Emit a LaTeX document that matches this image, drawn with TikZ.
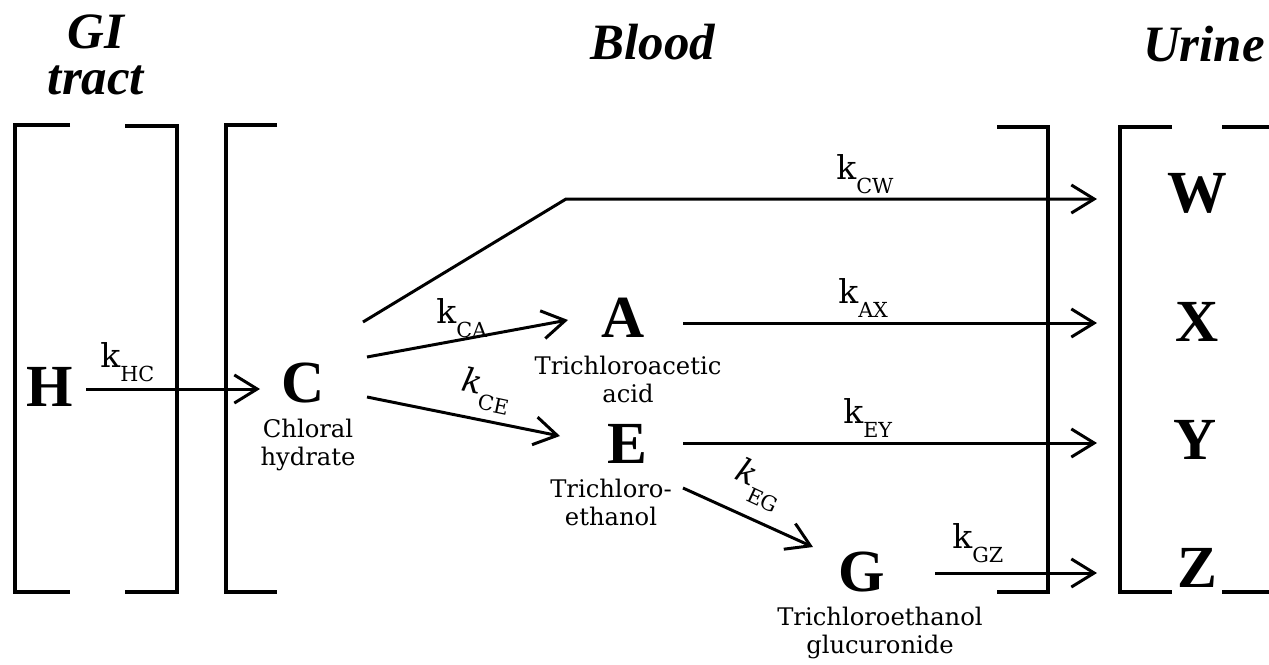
\documentclass[tikz,border=0pt]{standalone}
\usepackage{fontspec}
\newfontfamily\timesfont{Liberation Serif}
\newfontfamily\labelfont{DejaVu Serif}
\usetikzlibrary{arrows.meta,calc}

\newcommand{\rate}[2]{{\labelfont\fontsize{18.7}{18.7}\selectfont #1}\raisebox{-8.5pt}{\labelfont\fontsize{11.8}{11.8}\selectfont #2}}

\tikzset{
  pool/.style={font=\timesfont\bfseries\fontsize{34}{34}\selectfont, inner sep=0pt},
  region/.style={font=\timesfont\bfseries\itshape\fontsize{29}{26}\selectfont, inner sep=0pt, align=center},
  chem/.style={font=\labelfont\fontsize{13.8}{15.8}\selectfont, inner sep=0pt, align=center, anchor=north},
  ratelabel/.style={inner sep=0pt, anchor=base west},
  flow/.style={line width=1.7pt, -{Straight Barb[length=13pt,width=16pt]}},
  bracket/.style={line width=2pt},
}

\begin{document}
\begin{tikzpicture}[x=0.02cm, y=-0.02cm]
  \useasboundingbox (0,0) rectangle (1269,664);
  % compartment brackets
  \draw[bracket] (70,125) -- (15,125) -- (15,592) -- (70,592);
  \draw[bracket] (125,126) -- (177,126) -- (177,592) -- (125,592);
  \draw[bracket] (277,125) -- (226,125) -- (226,592) -- (277,592);
  \draw[bracket] (997,127) -- (1048,127) -- (1048,592) -- (997,592);
  \draw[bracket] (1172,127) -- (1120,127) -- (1120,592) -- (1172,592);
  \draw[bracket] (1222,127) -- (1269,127);
  \draw[bracket] (1222,592) -- (1269,592);
  % headings
  \node[region] (gi) at (96,55) {GI\\tract};
  \node[region] (blood) at (653,42) {Blood};
  \node[region] (urine) at (1204,44) {Urine};
  % species
  \node[pool] (H) at (50,387) {H};
  \node[pool] (C) at (303,383) {C};
  \node[pool] (A) at (623,318) {A};
  \node[pool] (E) at (627,444) {E};
  \node[pool] (G) at (862,572) {G};
  \node[pool] (W) at (1197,193) {W};
  \node[pool] (X) at (1197,322) {X};
  \node[pool] (Y) at (1195,440) {Y};
  \node[pool] (Z) at (1197,568) {Z};
  \node[chem] (lblC) at (308,419) {Chloral\\hydrate};
  \node[chem] (lblA) at (628,356) {Trichloroacetic\\acid};
  \node[chem] (lblE) at (611,479) {Trichloro-\\ethanol};
  \node[chem] (lblG) at (880,607) {Trichloroethanol\\glucuronide};
  % transfers
  \draw[flow] ($(H)+(36,2)$) -- ($(C)+(-43,6)$);
  \draw[flow] ($(C)+(60,-61)$) -- ($(C)+(263,-184)$) -- ($(W)+(-100,6)$);
  \draw[flow] ($(C)+(64,-26)$) -- ($(A)+(-55,2)$);
  \draw[flow] ($(C)+(64,14)$) -- ($(E)+(-67,-8)$);
  \draw[flow] ($(A)+(60,5)$) -- ($(X)+(-100,1)$);
  \draw[flow] ($(E)+(56,-1)$) -- ($(Y)+(-98,3)$);
  \draw[flow] ($(E)+(56,44)$) -- ($(G)+(-49,-25)$);
  \draw[flow] ($(G)+(73,1)$) -- ($(Z)+(-100,5)$);
  % rate constants
  \node[ratelabel] (kHC) at (100,367) {\rate{k}{HC}};
  \node[ratelabel] (kCW) at (836,179) {\rate{k}{CW}};
  \node[ratelabel] (kCA) at (436,323) {\rate{k}{CA}};
  \node[ratelabel, rotate=-12] (kCE) at (460,390) {\rate{\itshape k}{CE}};
  \node[ratelabel] (kAX) at (838,303) {\rate{k}{AX}};
  \node[ratelabel] (kEY) at (843,423) {\rate{k}{EY}};
  \node[ratelabel, rotate=-25] (kEG) at (733,478) {\rate{\itshape k}{EG}};
  \node[ratelabel] (kGZ) at (952,548) {\rate{k}{GZ}};
\end{tikzpicture}
\end{document}
